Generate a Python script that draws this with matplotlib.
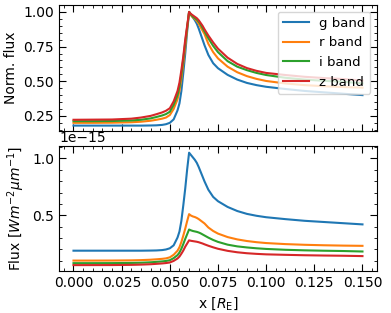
import numpy as np
import matplotlib
matplotlib.use("Agg")
import matplotlib.pyplot as plt

# distance along the profile [R_E]
x = [0.0, 0.01, 0.02, 0.03, 0.035, 0.04, 0.043, 0.046, 0.048, 0.05,
     0.052, 0.054, 0.055, 0.056, 0.057, 0.058, 0.059, 0.06, 0.061, 0.062,
     0.063, 0.064, 0.065, 0.066, 0.067, 0.068, 0.07, 0.0725, 0.075, 0.08,
     0.085, 0.09, 0.095, 0.1, 0.11, 0.12, 0.13, 0.14, 0.15]

# normalized flux per band
g_norm = [0.180, 0.180, 0.180, 0.180, 0.180, 0.181, 0.182, 0.185, 0.190, 0.200,
          0.225, 0.29, 0.34, 0.43, 0.56, 0.70, 0.86, 1.00, 0.98, 0.96,
          0.94, 0.915, 0.88, 0.84, 0.80, 0.76, 0.69, 0.63, 0.594, 0.546,
          0.512, 0.488, 0.472, 0.460, 0.444, 0.430, 0.420, 0.410, 0.400]
r_norm = [0.200, 0.200, 0.201, 0.204, 0.208, 0.215, 0.222, 0.230, 0.238, 0.256,
          0.30, 0.37, 0.43, 0.52, 0.63, 0.75, 0.88, 1.00, 0.975, 0.96,
          0.95, 0.935, 0.915, 0.89, 0.865, 0.84, 0.77, 0.71, 0.665, 0.605,
          0.565, 0.537, 0.517, 0.502, 0.484, 0.472, 0.464, 0.458, 0.454]
i_norm = [0.212, 0.212, 0.213, 0.217, 0.222, 0.232, 0.242, 0.253, 0.263, 0.28,
          0.33, 0.40, 0.46, 0.55, 0.66, 0.78, 0.89, 1.00, 0.98, 0.965,
          0.955, 0.945, 0.93, 0.91, 0.885, 0.86, 0.81, 0.755, 0.71, 0.645,
          0.605, 0.58, 0.56, 0.545, 0.525, 0.512, 0.503, 0.496, 0.485]
z_norm = [0.222, 0.223, 0.224, 0.23, 0.238, 0.25, 0.262, 0.275, 0.287, 0.305,
          0.355, 0.43, 0.49, 0.58, 0.68, 0.80, 0.90, 1.00, 0.985, 0.975,
          0.965, 0.955, 0.94, 0.92, 0.90, 0.875, 0.83, 0.78, 0.735, 0.67,
          0.625, 0.595, 0.575, 0.56, 0.545, 0.532, 0.523, 0.516, 0.505]

# peak flux of each band [W m^-2 um^-1]
peak_flux = {"g": 1.05e-15, "r": 0.51e-15, "i": 0.375e-15, "z": 0.28e-15}

bands = ["g", "r", "i", "z"]
norms = {"g": g_norm, "r": r_norm, "i": i_norm, "z": z_norm}

plt.rcParams.update({
    "font.size": 10,
    "xtick.direction": "in",
    "ytick.direction": "in",
    "xtick.top": True,
    "ytick.right": True,
    "xtick.minor.visible": True,
    "ytick.minor.visible": True,
    "xtick.major.size": 4.8,
    "ytick.major.size": 4.8,
    "xtick.minor.size": 2.4,
    "ytick.minor.size": 2.4,
})

fig = plt.figure(figsize=(3.91, 3.13), dpi=100)
ax1 = fig.add_axes([0.151, 0.581, 0.813, 0.403])
ax2 = fig.add_axes([0.151, 0.134, 0.813, 0.400], sharex=ax1)

for b in bands:
    norm = np.array(norms[b])
    ax1.plot(x, norm, lw=1.5, label=f"{b} band")
    ax2.plot(x, norm * peak_flux[b], lw=1.5)

ax1.set_ylabel("Norm. flux")
ax1.set_ylim(0.14, 1.05)
ax1.tick_params(labelbottom=False)
ax1.legend(loc="upper right", fontsize=9.5, handletextpad=0.7)

ax2.set_ylim(0.01e-15, 1.11e-15)
ax2.set_xlabel(r"x [$R_{\rm E}$]")
ax2.set_ylabel(r"Flux [$Wm^{-2}\mu m^{-1}$]")

fig.savefig("out.png", dpi=100)
